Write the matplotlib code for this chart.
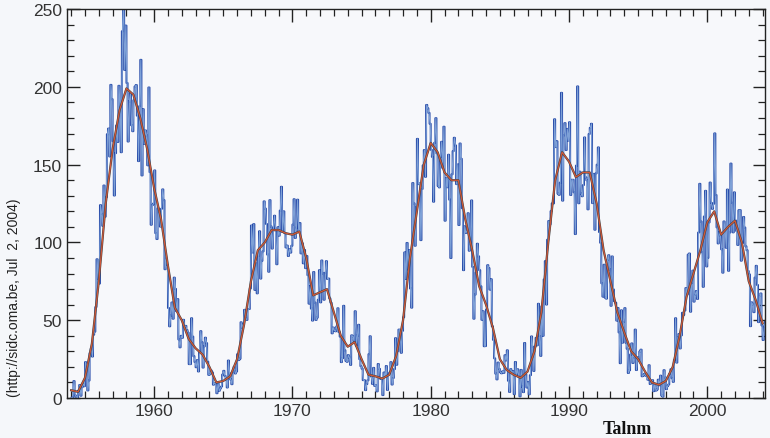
import numpy as np
import matplotlib
matplotlib.use('Agg')
import matplotlib.pyplot as plt
from matplotlib.ticker import MultipleLocator

# monthly sunspot numbers, Jan 1954 .. Jun 2004 (one row per year)
monthly = [
	0.2, 0.5, 10.9, 1.8, 0.8, 0.2, 4.8, 8.4, 1.5, 7.0, 9.2, 7.6,
	23.1, 20.8, 4.9, 11.3, 28.9, 31.7, 26.7, 40.7, 42.7, 58.5, 89.2, 76.9,
	73.6, 124.0, 118.4, 110.7, 136.6, 116.6, 129.1, 169.6, 173.2, 155.3, 201.3, 192.1,
	165.0, 130.2, 157.4, 175.2, 164.6, 200.7, 187.2, 158.0, 235.8, 253.8, 210.9, 239.4,
	202.5, 164.9, 190.7, 196.0, 175.3, 171.5, 191.4, 200.2, 201.2, 181.5, 152.3, 187.6,
	217.4, 143.1, 185.7, 163.3, 172.0, 168.7, 149.6, 199.6, 145.2, 111.4, 124.0, 125.0,
	146.3, 106.0, 102.2, 122.0, 119.6, 110.2, 121.7, 134.1, 127.2, 82.8, 89.6, 85.6,
	57.9, 46.1, 53.0, 61.4, 51.0, 77.4, 70.2, 55.9, 63.6, 37.7, 32.6, 40.0,
	38.7, 50.3, 45.6, 46.4, 43.7, 42.0, 21.8, 21.8, 51.3, 39.5, 26.9, 23.2,
	19.8, 24.4, 17.1, 29.3, 43.0, 35.9, 19.6, 33.2, 38.8, 35.3, 23.4, 14.9,
	15.3, 17.7, 16.5, 8.6, 9.5, 9.1, 3.1, 9.3, 4.7, 6.1, 7.4, 15.1,
	17.5, 14.2, 11.7, 6.8, 24.1, 15.9, 11.9, 8.9, 16.8, 20.1, 15.8, 17.0,
	28.2, 24.4, 25.3, 48.7, 45.3, 47.7, 56.7, 51.2, 50.2, 57.2, 57.2, 70.4,
	110.9, 93.6, 111.8, 69.5, 86.5, 67.3, 91.5, 107.2, 76.8, 88.2, 94.3, 126.4,
	121.8, 111.9, 92.2, 81.2, 127.2, 110.3, 96.1, 109.3, 117.2, 107.7, 86.0, 109.8,
	104.4, 120.5, 135.8, 106.8, 120.0, 106.0, 96.8, 98.0, 91.3, 95.7, 93.5, 97.9,
	111.5, 127.8, 102.9, 109.5, 127.5, 106.8, 112.5, 93.0, 99.5, 86.6, 95.2, 83.5,
	91.3, 79.0, 60.7, 71.8, 57.5, 49.8, 81.0, 61.4, 50.2, 51.7, 63.2, 82.2,
	61.5, 88.4, 80.1, 63.2, 80.5, 88.0, 76.5, 76.8, 64.0, 61.3, 41.6, 45.3,
	43.4, 42.9, 46.0, 57.7, 42.4, 39.5, 23.1, 25.6, 59.3, 30.7, 23.9, 23.3,
	27.6, 26.0, 21.3, 40.3, 39.5, 36.6, 55.8, 33.6, 40.2, 47.1, 25.0, 20.5,
	18.9, 11.5, 11.5, 5.1, 9.0, 11.4, 28.2, 39.7, 13.9, 9.1, 19.4, 7.8,
	8.1, 4.3, 21.9, 18.8, 12.4, 12.2, 1.9, 16.4, 13.5, 20.6, 5.2, 15.3,
	16.4, 23.1, 8.7, 12.9, 18.6, 38.5, 21.4, 30.1, 44.0, 43.8, 29.1, 43.2,
	51.9, 93.6, 76.5, 99.7, 82.7, 95.1, 70.4, 58.1, 138.2, 125.1, 97.9, 122.7,
	166.6, 137.5, 138.0, 101.5, 134.4, 149.5, 159.4, 142.2, 188.4, 186.2, 183.3, 176.3,
	159.6, 155.0, 126.2, 164.1, 179.9, 157.3, 136.3, 135.4, 155.0, 164.7, 147.9, 174.4,
	114.0, 141.3, 135.5, 156.4, 127.5, 90.0, 143.8, 158.7, 167.3, 162.4, 137.5, 150.1,
	111.2, 163.6, 153.8, 122.0, 82.2, 110.4, 106.1, 107.6, 118.8, 94.7, 98.1, 127.0,
	84.3, 51.0, 66.5, 80.7, 99.2, 91.1, 82.2, 71.8, 50.3, 55.8, 33.3, 33.4,
	57.0, 85.4, 83.5, 69.7, 76.4, 46.1, 37.4, 25.5, 15.7, 12.0, 22.8, 18.7,
	16.5, 15.9, 17.2, 16.2, 27.5, 24.2, 30.7, 11.1, 3.9, 18.6, 16.2, 17.3,
	2.5, 23.2, 15.1, 18.5, 13.7, 1.1, 18.1, 7.4, 3.8, 35.4, 15.2, 6.8,
	10.4, 2.4, 14.7, 39.6, 33.0, 17.4, 33.0, 38.7, 33.9, 60.6, 39.9, 27.1,
	59.0, 40.0, 76.2, 88.0, 60.1, 101.8, 113.8, 111.6, 120.1, 125.1, 125.1, 179.2,
	161.3, 165.1, 131.4, 130.6, 138.5, 196.2, 126.9, 168.9, 176.7, 159.4, 173.0, 165.5,
	177.3, 130.5, 140.3, 140.3, 132.2, 105.4, 149.4, 200.3, 125.2, 145.5, 131.4, 129.7,
	136.9, 167.5, 141.9, 140.0, 121.3, 169.7, 173.7, 176.3, 125.3, 144.1, 108.2, 144.4,
	150.0, 161.1, 106.7, 99.8, 73.8, 65.2, 85.7, 64.5, 63.9, 88.7, 91.8, 82.6,
	59.3, 91.0, 69.8, 62.2, 61.3, 49.8, 57.9, 42.2, 22.4, 56.4, 35.6, 48.9,
	57.8, 35.5, 31.7, 16.1, 17.8, 28.0, 35.1, 22.5, 25.7, 44.0, 18.0, 26.2,
	24.2, 29.9, 31.1, 14.0, 14.5, 15.6, 14.5, 14.3, 11.8, 21.1, 9.0, 10.0,
	11.5, 4.4, 9.2, 4.8, 5.5, 11.8, 8.2, 14.4, 1.6, 0.9, 17.9, 13.3,
	5.7, 7.6, 8.7, 15.5, 18.5, 12.7, 10.4, 24.4, 51.3, 22.8, 39.0, 41.2,
	31.9, 40.3, 54.8, 53.4, 56.3, 70.7, 66.6, 92.2, 92.9, 55.5, 74.0, 81.9,
	62.0, 66.3, 68.8, 63.7, 106.4, 137.7, 113.5, 93.7, 71.5, 116.7, 133.2, 84.6,
	90.1, 112.9, 138.5, 125.5, 121.6, 124.9, 170.1, 130.5, 109.7, 99.4, 106.8, 104.4,
	95.6, 80.6, 113.5, 107.7, 96.6, 134.0, 81.8, 106.4, 150.7, 125.5, 106.5, 132.2,
	114.1, 107.4, 98.4, 120.7, 120.8, 88.3, 99.6, 116.4, 109.6, 97.5, 95.0, 81.6,
	79.5, 46.2, 61.5, 60.0, 55.2, 77.4, 85.0, 72.7, 48.8, 65.6, 67.2, 46.7,
	37.3, 45.8, 49.1, 39.3, 41.5, 43.2,
]
start_year = 1954

# smoothed curve, read every half year
smooth_years = [1954.0 + 0.5 * k for k in range(101)]
smooth_vals = [
	5, 4, 13, 35, 75, 125, 160, 185, 199, 195,
	180, 160, 135, 115, 85, 58, 50, 38, 32, 28,
	20, 10, 11, 14, 25, 47, 75, 95, 100, 108,
	108, 106, 105, 107, 90, 66, 68, 70, 55, 40,
	33, 36, 25, 15, 14, 12.5, 15, 27, 50, 90,
	120, 150, 164, 158, 145, 140, 140, 115, 95, 72,
	60, 45, 25, 18, 15, 13, 17, 30, 55, 100,
	140, 158, 152, 142, 145, 145, 125, 95, 75, 55,
	42, 30, 25, 17, 10, 8.5, 11, 20, 40, 65,
	80, 95, 113, 120, 105, 110, 114, 100, 75, 63,
	48,
]

x_major = [1960, 1970, 1980, 1990, 2000]
y_major = [0, 50, 100, 150, 200, 250]

months = start_year + (np.arange(len(monthly)) + 0.5) / 12.0

fig = plt.figure(figsize=(7.7, 4.39), dpi=100, facecolor='#f5f7fa')
ax = fig.add_axes([0.087, 0.091, 0.907, 0.886])
ax.set_facecolor('#f7f8fb')

ax.plot(months, monthly, color='#2448a8', lw=1.4, drawstyle='steps-mid')
ax.plot(months, monthly, color='#8fb2e0', lw=0.8, alpha=0.85)
ax.plot(smooth_years, smooth_vals, color='#404040', lw=1.6)
ax.plot(smooth_years, smooth_vals, color='#d2583a', lw=0.9)

ax.set_xlim(1953.7, 2004.2)
ax.set_ylim(0, 250)
ax.set_xticks(x_major)
ax.set_yticks(y_major)
ax.xaxis.set_minor_locator(MultipleLocator(1))
ax.yaxis.set_minor_locator(MultipleLocator(10))
ax.tick_params(which='both', direction='in', top=True, right=True, colors='#222222',
	labelcolor='#333333')
ax.tick_params(which='major', length=9, width=1.0)
ax.tick_params(which='minor', length=5, width=0.9)
for lab in ax.get_xticklabels() + ax.get_yticklabels():
	lab.set_family('Liberation Sans')
	lab.set_fontsize(12.5)
for s in ax.spines.values():
	s.set_color('#222222')
	s.set_linewidth(1.0)

fig.text(627 / 770, 1 - 430 / 439, 'Talnm', family='Liberation Serif', weight='bold',
	fontsize=13, ha='center', va='center', color='#111111')
fig.text(14 / 770, 1 - 298 / 439, '(http://sidc.oma.be, Jul  2, 2004)', family='Liberation Sans',
	fontsize=10, rotation=90, ha='center', va='center', color='#222222')

fig.savefig('out.png', dpi=100, facecolor=fig.get_facecolor())
